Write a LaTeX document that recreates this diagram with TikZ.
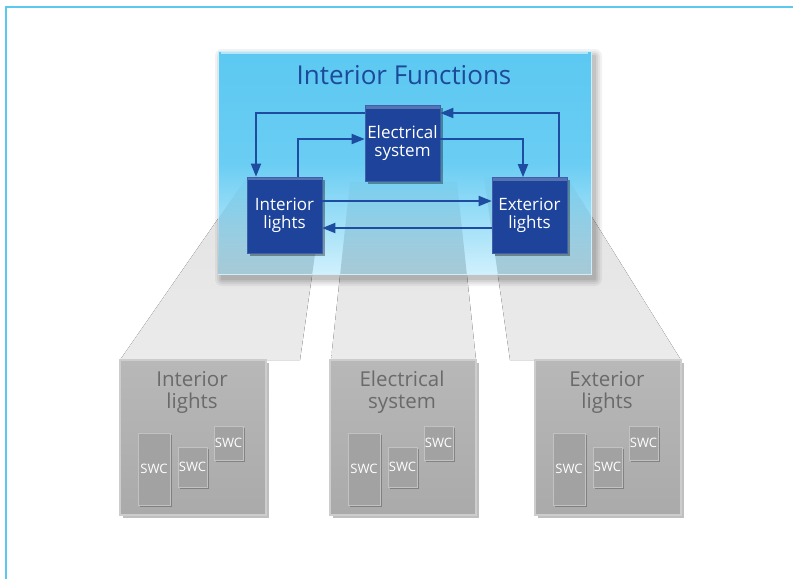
\documentclass[tikz,border=0pt]{standalone}
\usepackage{fontspec}
\setmainfont{Open Sans}
\usetikzlibrary{arrows.meta,shadows,fadings}
\definecolor{pageline}{HTML}{5BC8F0}
\definecolor{titleblue}{HTML}{1C4A9A}
\definecolor{boxblue}{HTML}{1D439A}
\definecolor{arrblue}{HTML}{1E4CA0}
\definecolor{titlegray}{HTML}{6A6A6A}
\definecolor{frtop}{HTML}{5CC8F1}
\definecolor{frmid}{HTML}{6ACDF3}
\definecolor{frbot}{HTML}{D0F0FC}
\definecolor{beamtop}{HTML}{E2E2E2}
\definecolor{beambot}{HTML}{EBEBEB}
\definecolor{gbtop}{HTML}{B8B8B8}
\definecolor{gbbot}{HTML}{AAAAAA}
\definecolor{gbedge}{HTML}{CDCDCD}
\definecolor{swcfill}{HTML}{A2A2A2}
\definecolor{swcedge}{HTML}{C2C2C2}
\tikzfading[name=beamfade, top color=transparent!100, bottom color=transparent!76]
\begin{document}
\begin{tikzpicture}[x=1pt,y=-1pt,
  fnbox/.style={fill=boxblue, draw=boxblue!85!white, line width=0.6pt, text=white,
    minimum width=75pt, minimum height=76pt, inner sep=0pt, align=center,
    font=\fontsize{17}{18}\selectfont,
    drop shadow={shadow xshift=2.5pt,shadow yshift=-2.5pt,opacity=0.35,fill=black},
    path picture={\fill[white,opacity=0.25] (path picture bounding box.north west) rectangle ([yshift=-3pt]path picture bounding box.north east);}},
  framebox/.style={top color=frtop, bottom color=frbot, middle color=frmid,
    draw=white!70!frtop, line width=0.8pt, minimum width=373pt, minimum height=223pt, inner sep=0pt},
  arr/.style={draw=arrblue, line width=1.8pt, -{Triangle[length=13pt,width=10pt]}},
  graybox/.style={top color=gbtop, bottom color=gbbot, draw=gbedge, line width=1.5pt,
    minimum width=146pt, minimum height=155pt, inner sep=0pt,
    drop shadow={shadow xshift=3pt,shadow yshift=-3pt,opacity=0.25,fill=black}},
  graytitle/.style={text=titlegray, align=center, font=\fontsize{20.5}{22}\selectfont, inner sep=0pt},
  swcbox/.style={fill=swcfill, draw=swcedge, line width=0.8pt, text=white, inner sep=0pt,
    font=\fontsize{13}{14}\selectfont,
    drop shadow={shadow xshift=2pt,shadow yshift=-2pt,opacity=0.25,fill=black}},
  beam/.style={top color=beamtop, bottom color=beambot, draw=none}
]
\useasboundingbox (0,0) rectangle (793,579);
% page border (top and left)
\draw[pageline, line width=2pt] (6,579) -- (6,7) -- (793,7);

% light beams
\coordinate (b1a) at (247,177); \coordinate (b1b) at (326,177);
\coordinate (b1c) at (300,360); \coordinate (b1d) at (120,360);
\coordinate (b2a) at (350,182); \coordinate (b2b) at (457,182);
\coordinate (b2c) at (476,360); \coordinate (b2d) at (331,360);
\coordinate (b3a) at (484,177); \coordinate (b3b) at (567,177);
\coordinate (b3c) at (681,360); \coordinate (b3d) at (510,360);
\fill[beam] (b1a) -- (b1b) -- (b1c) -- (b1d) -- cycle;
\fill[beam] (b2a) -- (b2b) -- (b2c) -- (b2d) -- cycle;
\fill[beam] (b3a) -- (b3b) -- (b3c) -- (b3d) -- cycle;

% soft shadow of the frame
\foreach \s/\o in {7/0.05,5/0.06,3/0.07,1/0.08}{
  \fill[black,opacity=\o,rounded corners=\s pt] (218+4-\s,51+5-\s) rectangle (591+4+\s,274+5+\s);
}
% frame
\node[framebox] (fr) at (404.5,162.5) {};
% beams seen through the frame
\foreach \p/\q/\r/\t in {b1a/b1b/b1c/b1d, b2a/b2b/b2c/b2d, b3a/b3b/b3c/b3d}{
  \begin{scope}
    \clip ([xshift=0.5pt,yshift=-0.5pt]fr.north west) rectangle ([xshift=-0.5pt,yshift=0.5pt]fr.south east);
    \clip (\p) -- (\q) -- (\r) -- (\t) -- cycle;
    \fill[black!60!frtop, path fading=beamfade] (200,170) rectangle (620,274);
  \end{scope}
}
\draw[white,opacity=0.55,line width=1.5pt] ([xshift=3pt,yshift=-2.5pt]fr.north west) -- ([xshift=-3pt,yshift=-2.5pt]fr.north east);
\node[text=titleblue, font=\fontsize{26}{28}\selectfont, inner sep=0pt] (ttl) at (404,75) {Interior Functions};

% function boxes
\node[fnbox] (es) at (402.5,143.5) {Electrical\\system};
\node[fnbox] (il) at (284.5,215) {Interior\\lights};
\node[fnbox] (el) at (529.5,215.5) {Exterior\\lights};

% connectors
\draw[arr] (es.west |- 0,113) -| (il.north -| 256,0);
\draw[arr] (il.north -| 298,0) |- (es.west |- 0,139);
\draw[arr] (es.east |- 0,139) -| (el.north -| 523,0);
\draw[arr] (el.north -| 559,0) |- (es.east |- 0,113);
\draw[arr] (il.east |- 0,201) -- (el.west |- 0,201);
\draw[arr] (el.west |- 0,228) -- (il.east |- 0,228);

% lower boxes
\foreach \L/\n/\t in {120/1/{Interior\\lights}, 330/2/{Electrical\\system}, 535/3/{Exterior\\lights}}{
  \node[graybox] (gb\n) at (\L+73,437.5) {};
  \node[graytitle] (gt\n) at (\L+72,392) {\t};
  \node[swcbox, minimum width=32pt, minimum height=72pt] (swcA\n) at (\L+34,469) {SWC};
  \node[swcbox, minimum width=29pt, minimum height=40pt] (swcB\n) at (\L+72.5,467) {SWC};
  \node[swcbox, minimum width=29pt, minimum height=34pt] (swcC\n) at (\L+108.5,443) {SWC};
}
\end{tikzpicture}
\end{document}
